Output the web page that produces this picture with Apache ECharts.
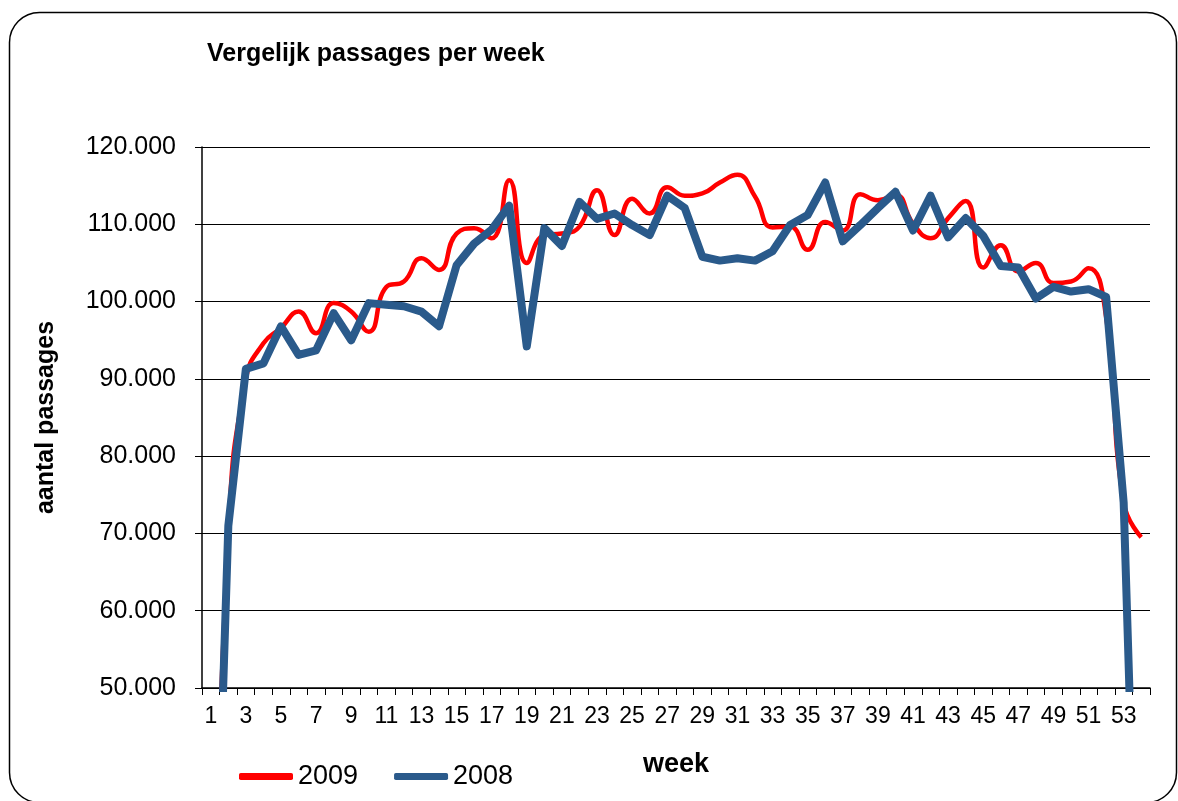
<!DOCTYPE html>
<html>
<head>
<meta charset="utf-8">
<title>Vergelijk passages per week</title>
<script src="https://cdn.jsdelivr.net/npm/echarts@6/dist/echarts.min.js"></script>
<style>
  html, body { margin: 0; padding: 0; background: #fff; }
  #chart { width: 1178px; height: 801px; }
</style>
</head>
<body>
<div id="chart"></div>
<script>
  // weken 1..54
  var weeks = []
  for (var w = 1; w <= 54; w++) weeks.push(String(w))

  // passages per week
  var passages2009 = [
    0, 70000, 90000, 94600, 96600, 98700, 95900, 99800, 98700, 96100,
    101900, 102600, 105600, 104100, 108800, 109500, 108200, 115700, 105000, 108600,
    108800, 109700, 114400, 108600, 113300, 111400, 114800, 113700, 114000, 115400,
    116400, 113600, 109600, 109700, 106700, 110300, 109200, 113900, 113100, 113800,
    110100, 108200, 110800, 113000, 104400, 107300, 103900, 105000, 102400, 102600,
    104300, 98000, 74000, 69500
  ]
  var passages2008 = [
    0, 71000, 91300, 92000, 96800, 93100, 93700, 98500, 95000, 99800,
    99600, 99400, 98700, 96800, 104700, 107500, 109300, 112400, 94200, 109500,
    107200, 112900, 110700, 111400, 109900, 108600, 113700, 112100, 105800, 105300,
    105600, 105300, 106500, 109900, 111200, 115400, 107800, 109900, 112100, 114200,
    109200, 113700, 108300, 110800, 108500, 104600, 104400, 100400, 101900, 101300,
    101600, 100600, 74000, 0
  ]
  var yMin = 50000
  var yMax = 120000
  var yStep = 10000

  var font = 'Liberation Sans, Arial, sans-serif'
  var chart = echarts.init(document.getElementById('chart'))
  window.addEventListener('resize', function () {
    chart.resize()
  })

  chart.setOption({
    animation: false,
    textStyle: { fontFamily: font, color: '#000' },
    // rand met ronde hoeken
    graphic: [{
      type: 'rect',
      shape: { x: 9.5, y: 12.5, width: 1167, height: 790, r: 30 },
      style: { fill: 'none', stroke: '#000', lineWidth: 1.5 },
      silent: true
    }],
    title: {
      text: 'Vergelijk passages per week',
      left: 202,
      top: 37,
      textStyle: { fontFamily: font, fontSize: 25, fontWeight: 'bold', color: '#000' }
    },
    legend: {
      left: 234,
      top: 758,
      itemWidth: 54,
      itemHeight: 7,
      itemGap: 36,
      textStyle: { fontFamily: font, fontSize: 27, color: '#000' },
      data: [
        { name: '2009', icon: 'roundRect' },
        { name: '2008', icon: 'roundRect' }
      ]
    },
    grid: {
      left: 202,
      right: 28,
      top: 147,
      bottom: 113,
      containLabel: false
    },
    xAxis: {
      type: 'category',
      data: weeks,
      boundaryGap: true,
      name: 'week',
      nameLocation: 'middle',
      nameGap: 63,
      nameTextStyle: { fontFamily: font, fontSize: 27, fontWeight: 'bold', color: '#000' },
      axisLine: { lineStyle: { color: '#000', width: 1.5 } },
      axisTick: { show: true, interval: 0, length: 7, lineStyle: { color: '#000' } },
      axisLabel: { interval: 1, margin: 17, fontSize: 23, color: '#000', fontFamily: font },
      splitLine: { show: false }
    },
    yAxis: {
      type: 'value',
      min: yMin,
      max: yMax,
      interval: yStep,
      name: 'aantal passages',
      nameLocation: 'middle',
      nameRotate: 90,
      nameGap: 143,
      nameTextStyle: { fontFamily: font, fontSize: 25, fontWeight: 'bold', color: '#000' },
      axisLine: { show: true, lineStyle: { color: '#000', width: 1.5 } },
      axisTick: { show: true, length: 7, lineStyle: { color: '#000' } },
      axisLabel: {
        margin: 26,
        fontSize: 25,
        color: '#000',
        fontFamily: font,
        formatter: function (v) { return (v / 1000).toFixed(3) }
      },
      splitLine: { show: true, lineStyle: { color: '#000', width: 1 } }
    },
    series: [
      {
        name: '2009',
        type: 'line',
        data: passages2009,
        smooth: 0.5,
        symbol: 'none',
        clip: true,
        lineStyle: { color: '#ff0000', width: 4.5 },
        itemStyle: { color: '#ff0000' },
        z: 2
      },
      {
        name: '2008',
        type: 'line',
        data: passages2008,
        smooth: false,
        symbol: 'none',
        clip: true,
        lineStyle: { color: '#2a5a8b', width: 8, join: 'round' },
        itemStyle: { color: '#2a5a8b' },
        z: 3
      }
    ]
  })
</script>
</body>
</html>
